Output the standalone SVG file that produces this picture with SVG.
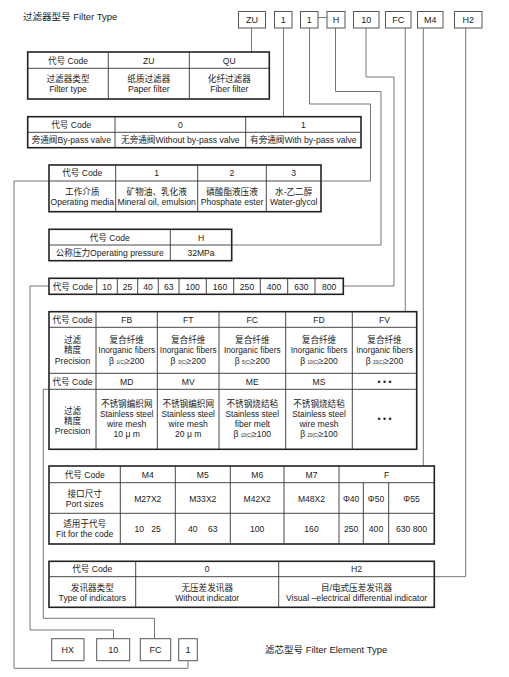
<svg xmlns="http://www.w3.org/2000/svg" width="509" height="677" viewBox="0 0 509 677">
<style>
text{font-family:"Liberation Sans","Noto Sans CJK SC",sans-serif;fill:#222;font-size:8.6px;text-anchor:middle}
.title{font-size:9.5px;text-anchor:start}
.bx{font-size:9px}
.box{fill:#fff;stroke:#555;stroke-width:1}
.outer{fill:#fff;stroke:#222;stroke-width:1.6}
.grid{fill:none;stroke:#333;stroke-width:0.9}
.conn{fill:none;stroke:#777;stroke-width:1}
.sub{font-size:4.5px}
.s6{font-size:8.3px}
</style>

<g id="connectors">
<path class="conn" d="M251.5 28V52"/>
<path class="conn" d="M283.5 28V116.7"/>
<path class="conn" d="M309.5 28V104H370.5V181H14V668.3H188V660.7"/>
<path class="conn" d="M318 17.5H327"/>
<path class="conn" d="M335.5 28V91.5H381V245H231.7"/>
<path class="conn" d="M366 28V77H394V286H343.3"/>
<path class="conn" d="M49 286H30V630H113.5V638.7"/>
<path class="conn" d="M405.3 28V311.7"/>
<path class="conn" d="M49 389.3H43.3V618.3H154.5V638.7"/>
<path class="conn" d="M423.3 28V466"/>
<path class="conn" d="M465.7 28V576.7H434.3"/>
</g>

<g id="title"><text class="title" x="23" y="20">过滤器型号  Filter Type</text></g>

<g id="box-ZU"><rect class="box" x="238.5" y="11.5" width="27" height="16.5"/><text class="bx" x="252" y="23">ZU</text></g>
<g id="box-1a"><rect class="box" x="274.5" y="11.5" width="17.5" height="16.5"/><text class="bx" x="283.3" y="23">1</text></g>
<g id="box-1b"><rect class="box" x="300.5" y="11.5" width="17.5" height="16.5"/><text class="bx" x="309.3" y="23">1</text></g>
<g id="box-H"><rect class="box" x="327" y="11.5" width="18" height="16.5"/><text class="bx" x="336" y="23">H</text></g>
<g id="box-10"><rect class="box" x="353.5" y="11.5" width="25.5" height="16.5"/><text class="bx" x="366.2" y="23">10</text></g>
<g id="box-FC"><rect class="box" x="385.5" y="11.5" width="25.5" height="16.5"/><text class="bx" x="398.2" y="23">FC</text></g>
<g id="box-M4"><rect class="box" x="417.5" y="11.5" width="25.5" height="16.5"/><text class="bx" x="430.2" y="23">M4</text></g>
<g id="box-H2"><rect class="box" x="454.5" y="11.5" width="27.5" height="16.5"/><text class="bx" x="468.2" y="23">H2</text></g>

<g id="table-filter-type">
<rect class="outer" x="27.7" y="52" width="241.6" height="47"/>
<path class="grid" d="M27.7 68.3H269.3M108.3 52V99M189.3 52V99"/>
<text x="68" y="63.5">代号 Code</text><text x="148.8" y="63.5">ZU</text><text x="229.3" y="63.5">QU</text>
<text x="68" y="82">过滤器类型</text><text x="68" y="92">Filter type</text>
<text x="148.8" y="82">纸质过滤器</text><text x="148.8" y="92">Paper filter</text>
<text x="229.3" y="82">化纤过滤器</text><text x="229.3" y="92">Fiber filter</text>
</g>

<g id="table-bypass">
<rect class="outer" x="27.7" y="116.7" width="333.3" height="31"/>
<path class="grid" d="M27.7 132.3H361M115 116.7V147.7M245.7 116.7V147.7"/>
<text x="71.3" y="127.7">代号 Code</text><text x="180.3" y="127.7">0</text><text x="303.3" y="127.7">1</text>
<text x="71.3" y="143">旁通阀By-pass valve</text>
<text x="180.3" y="143">无旁通阀Without by-pass valve</text>
<text x="303.3" y="143">有旁通阀With by-pass valve</text>
</g>

<g id="table-media">
<rect class="outer" x="49" y="165" width="272" height="46.7"/>
<path class="grid" d="M49 181H321M115.7 165V211.7M197.7 165V211.7M266.3 165V211.7"/>
<text x="82.3" y="176.3">代号 Code</text><text x="156.7" y="176.3">1</text><text x="232" y="176.3">2</text><text x="293.7" y="176.3">3</text>
<text x="82.3" y="194.5">工作介质</text><text x="82.3" y="204.5">Operating media</text>
<text x="156.7" y="194.5">矿物油、乳化液</text><text x="156.7" y="204.5">Mineral oil, emulsion</text>
<text x="232" y="194.5">磷酸酯液压液</text><text x="232" y="204.5">Phosphate ester</text>
<text x="293.7" y="194.5">水-乙二醇</text><text x="293.7" y="204.5">Water-glycol</text>
</g>

<g id="table-pressure">
<rect class="outer" x="49" y="229.3" width="182.7" height="31.4"/>
<path class="grid" d="M49 245H231.7M170.3 229.3V260.7"/>
<text x="109.7" y="240.5">代号 Code</text><text x="201" y="240.5">H</text>
<text x="109.7" y="256">公称压力Operating pressure</text><text x="201" y="256">32MPa</text>
</g>

<g id="table-size">
<rect class="outer" x="49" y="278.3" width="294.3" height="16"/>
<path class="grid" d="M96.7 278.3V294.3M117.3 278.3V294.3M137.7 278.3V294.3M158.3 278.3V294.3M179 278.3V294.3M206.3 278.3V294.3M233.7 278.3V294.3M260.3 278.3V294.3M287.7 278.3V294.3M315 278.3V294.3"/>
<text x="72.8" y="289.5">代号 Code</text>
<text x="107" y="289.5">10</text><text x="127.5" y="289.5">25</text><text x="148" y="289.5">40</text><text x="168.7" y="289.5">63</text>
<text x="192.7" y="289.5">100</text><text x="220" y="289.5">160</text><text x="247" y="289.5">250</text><text x="274" y="289.5">400</text>
<text x="301.3" y="289.5">630</text><text x="329.2" y="289.5">800</text>
</g>

<g id="table-precision">
<rect class="outer" x="49" y="311.7" width="367.7" height="137.6"/>
<path class="grid" d="M49 327.3H416.7M49 373.3H416.7M49 389.3H416.7M96 311.7V449.3M157.3 311.7V449.3M219 311.7V449.3M285.7 311.7V449.3M352.3 311.7V449.3"/>
<text x="72.5" y="322.6">代号 Code</text><text x="126.7" y="322.6">FB</text><text x="188.2" y="322.6">FT</text><text x="252.3" y="322.6">FC</text><text x="319" y="322.6">FD</text><text x="384.5" y="322.6">FV</text>
<text x="72.5" y="342.5">过滤</text><text x="72.5" y="353">精度</text><text x="72.5" y="363.5">Precision</text>
<text x="126.7" y="342.5">复合纤维</text><text class="s6" x="126.7" y="353">Inorganic fibers</text><text x="126.7" y="363.5">β <tspan class="sub">1(C)</tspan>≥200</text>
<text x="188.2" y="342.5">复合纤维</text><text class="s6" x="188.2" y="353">Inorganic fibers</text><text x="188.2" y="363.5">β <tspan class="sub">3(C)</tspan>≥200</text>
<text x="252.3" y="342.5">复合纤维</text><text class="s6" x="252.3" y="353">Inorganic fibers</text><text x="252.3" y="363.5">β <tspan class="sub">5(C)</tspan>≥200</text>
<text x="319" y="342.5">复合纤维</text><text class="s6" x="319" y="353">Inorganic fibers</text><text x="319" y="363.5">β <tspan class="sub">10(C)</tspan>≥200</text>
<text x="384.5" y="342.5">复合纤维</text><text class="s6" x="384.5" y="353">Inorganic fibers</text><text x="384.5" y="363.5">β <tspan class="sub">20(C)</tspan>≥200</text>
<text x="72.5" y="384.5">代号 Code</text><text x="126.7" y="384.5">MD</text><text x="188.2" y="384.5">MV</text><text x="252.3" y="384.5">ME</text><text x="319" y="384.5">MS</text><text x="384.5" y="384.5">• • •</text>
<text x="72.5" y="413.5">过滤</text><text x="72.5" y="423.5">精度</text><text x="72.5" y="433.5">Precision</text>
<text x="126.7" y="407">不锈钢编织网</text><text class="s6" x="126.7" y="417">Stainless steel</text><text x="126.7" y="427">wire mesh</text><text x="126.7" y="437">10 μ m</text>
<text x="188.2" y="407">不锈钢编织网</text><text class="s6" x="188.2" y="417">Stainless steel</text><text x="188.2" y="427">wire mesh</text><text x="188.2" y="437">20 μ m</text>
<text x="252.3" y="407">不锈钢烧结毡</text><text class="s6" x="252.3" y="417">Stainless steel</text><text x="252.3" y="427">fiber melt</text><text x="252.3" y="437">β <tspan class="sub">10(C)</tspan>≥100</text>
<text x="319" y="407">不锈钢烧结毡</text><text class="s6" x="319" y="417">Stainless steel</text><text x="319" y="427">wire mesh</text><text x="319" y="437">β <tspan class="sub">20(C)</tspan>≥100</text>
<text x="384.5" y="422">• • •</text>
</g>

<g id="table-port">
<rect class="outer" x="49" y="466" width="385.3" height="78"/>
<path class="grid" d="M49 482.7H434.3M49 513.3H434.3M120.3 466V544M175.3 466V544M230.3 466V544M284 466V544M339 466V544M363.3 482.7V544M388.7 482.7V544"/>
<text x="84.7" y="477.5">代号 Code</text><text x="147.8" y="477.5">M4</text><text x="202.8" y="477.5">M5</text><text x="257.2" y="477.5">M6</text><text x="311.5" y="477.5">M7</text><text x="386.7" y="477.5">F</text>
<text x="84.7" y="496.5">接口尺寸</text><text x="84.7" y="506.5">Port sizes</text>
<text x="147.8" y="501.5">M27X2</text><text x="202.8" y="501.5">M33X2</text><text x="257.2" y="501.5">M42X2</text><text x="311.5" y="501.5">M48X2</text>
<text x="351.2" y="501.5">Φ40</text><text x="376" y="501.5">Φ50</text><text x="411.5" y="501.5">Φ55</text>
<text x="84.7" y="527">适用于代号</text><text x="84.7" y="537">Fit for the code</text>
<text x="139.3" y="531.5">10</text><text x="156" y="531.5">25</text>
<text x="192.7" y="531.5">40</text><text x="212.7" y="531.5">63</text>
<text x="257.2" y="531.5">100</text><text x="311.5" y="531.5">160</text>
<text x="351.2" y="531.5">250</text><text x="376" y="531.5">400</text><text x="411.5" y="531.5">630 800</text>
</g>

<g id="table-indicator">
<rect class="outer" x="49" y="561.3" width="385.3" height="46"/>
<path class="grid" d="M49 576.7H434.3M135.7 561.3V607.3M278.7 561.3V607.3"/>
<text x="92.3" y="572.2">代号 Code</text><text x="207.2" y="572.2">0</text><text x="356.5" y="572.2">H2</text>
<text x="92.3" y="591">发讯器类型</text><text x="92.3" y="601">Type of indicators</text>
<text x="207.2" y="591">无压差发讯器</text><text x="207.2" y="601">Without indicator</text>
<text x="356.5" y="591">目/电式压差发讯器</text><text x="356.5" y="601">Visual –electrical differential indicator</text>
</g>

<g id="el-HX"><rect class="box" x="51.7" y="638.7" width="32.3" height="22"/><text class="bx" x="67.8" y="653">HX</text></g>
<g id="el-10"><rect class="box" x="96.7" y="638.7" width="33" height="22"/><text class="bx" x="113.2" y="653">10</text></g>
<g id="el-FC"><rect class="box" x="140.3" y="638.7" width="30.4" height="22"/><text class="bx" x="155.5" y="653">FC</text></g>
<g id="el-1"><rect class="box" x="178.7" y="638.7" width="18.6" height="22"/><text class="bx" x="188" y="653">1</text></g>
<g id="element-title"><text class="title" x="265" y="653">滤芯型号 Filter Element Type</text></g>
</svg>
